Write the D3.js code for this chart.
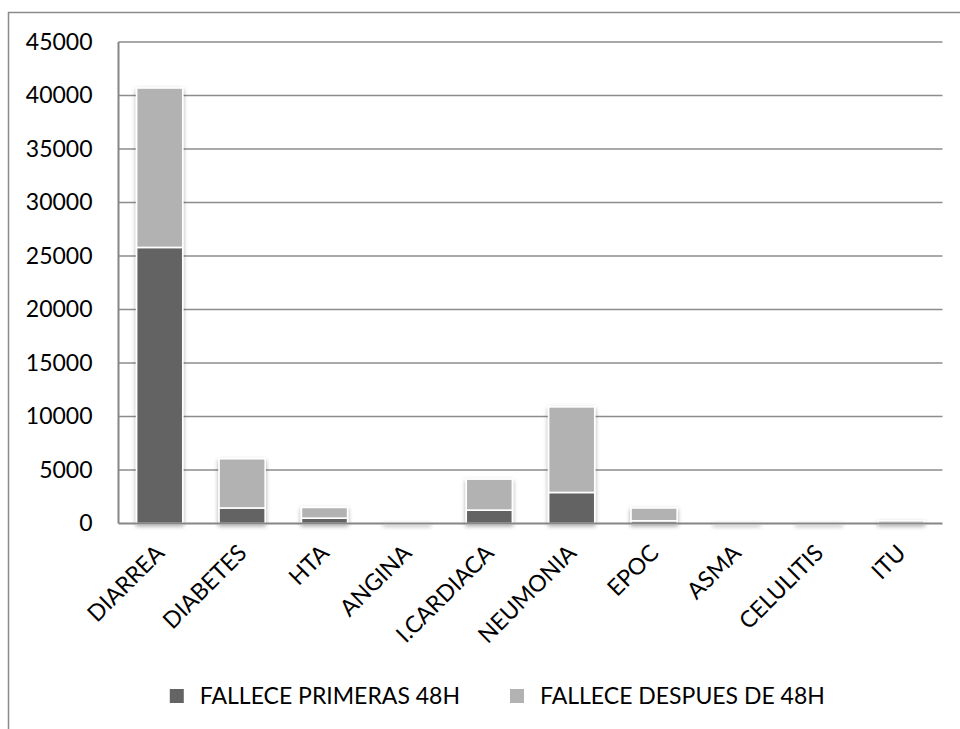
<!DOCTYPE html>
<html>
<head>
<meta charset="utf-8">
<script src="https://cdn.jsdelivr.net/npm/d3@7"></script>
<style>
  html, body { margin: 0; padding: 0; background: #fff; }
  svg { display: block; }
  text { font-family: Lato, "Open Sans", sans-serif; fill: #000; }
</style>
</head>
<body>
<svg id="chart" width="960" height="729"></svg>
<script>
const categories = ["DIARREA", "DIABETES", "HTA", "ANGINA", "I.CARDIACA", "NEUMONIA", "EPOC", "ASMA", "CELULITIS", "ITU"];
const seriesNames = ["FALLECE PRIMERAS 48H", "FALLECE DESPUES DE 48H"];
const primeras48h = [25800, 1450, 500, 20, 1250, 2900, 250, 10, 10, 20];
const despues48h  = [14900, 4600, 1000, 40, 2900, 8000, 1200, 20, 20, 230];
const yTicks = [0, 5000, 10000, 15000, 20000, 25000, 30000, 35000, 40000, 45000];
const colors = ["#646464", "#b2b2b2"];

const svg = d3.select("#chart");
const W = 960, H = 729;
const plot = { left: 118.5, right: 942.5, top: 42, bottom: 523.5 };
const FS = "23px";

// shadow filter
const defs = svg.append("defs");
const f = defs.append("filter").attr("id", "shadow").attr("x", "-30%").attr("y", "-30%").attr("width", "160%").attr("height", "160%");
f.append("feDropShadow").attr("dx", 0).attr("dy", 2).attr("stdDeviation", 2.2)
  .attr("flood-color", "#000").attr("flood-opacity", 0.35);

// outer frame
svg.append("path")
  .attr("d", `M8.5,${H} L8.5,12.5 L${W},12.5`)
  .attr("fill", "none").attr("stroke", "#8a8a8a").attr("stroke-width", 1.5);

const x = d3.scaleBand().domain(categories).range([plot.left, plot.right]).paddingInner(0.44).paddingOuter(0.22);
const y = d3.scaleLinear().domain([0, 45000]).range([plot.bottom, plot.top]);

// gridlines
svg.append("g").selectAll("line").data(yTicks.filter(t => t > 0)).join("line")
  .attr("x1", plot.left).attr("x2", plot.right)
  .attr("y1", d => y(d)).attr("y2", d => y(d))
  .attr("stroke", "#8c8c8c").attr("stroke-width", 1.6);

// stacked data
const table = categories.map((c, i) => ({ cat: c, s0: primeras48h[i], s1: despues48h[i] }));
const stack = d3.stack().keys(["s0", "s1"])(table);

const gBars = svg.append("g").attr("filter", "url(#shadow)");
stack.forEach((layer, li) => {
  gBars.append("g").selectAll("rect").data(layer).join("rect")
    .attr("x", d => x(d.data.cat))
    .attr("width", x.bandwidth())
    .attr("y", d => y(d[1]))
    .attr("height", d => Math.max(0, y(d[0]) - y(d[1])))
    .attr("fill", colors[li])
    .attr("stroke", "#fff").attr("stroke-width", 1.6);
});

// axes lines
svg.append("line").attr("x1", plot.left).attr("x2", plot.left).attr("y1", plot.top).attr("y2", plot.bottom)
  .attr("stroke", "#868686").attr("stroke-width", 2);
svg.append("line").attr("x1", plot.left).attr("x2", plot.right).attr("y1", plot.bottom).attr("y2", plot.bottom)
  .attr("stroke", "#868686").attr("stroke-width", 2);

// y axis labels
const yAxis = d3.axisLeft(y).tickValues(yTicks).tickSize(0).tickPadding(26).tickFormat(d3.format("d"));
const gy = svg.append("g").attr("transform", `translate(${plot.left},0)`).call(yAxis);
gy.select(".domain").remove();
gy.selectAll("text").style("font-size", FS).style("font-family", "Lato, sans-serif").attr("fill", "#000");

// x axis labels
const xAxis = d3.axisBottom(x).tickSize(0).tickPadding(0);
const gx = svg.append("g").attr("transform", `translate(0,${plot.bottom})`).call(xAxis);
gx.select(".domain").remove();
gx.selectAll("text")
  .style("font-size", FS).style("font-family", "Lato, sans-serif").attr("fill", "#000")
  .attr("text-anchor", "end")
  .attr("dy", null).attr("y", 0)
  .attr("transform", "translate(6,31) rotate(-45)");

// legend
const lg = svg.append("g");
const legendBaseline = 704;
const t1 = lg.append("text").attr("x", 0).attr("y", legendBaseline).style("font-size", FS).text(seriesNames[0]);
const w1 = t1.node().getComputedTextLength();
const t1x = 460 - w1;
t1.attr("x", t1x);
lg.append("rect").attr("x", t1x - 30).attr("y", 689).attr("width", 14).attr("height", 14).attr("fill", colors[0]);
lg.append("rect").attr("x", 510).attr("y", 689).attr("width", 14).attr("height", 14).attr("fill", colors[1]);
lg.append("text").attr("x", 540).attr("y", legendBaseline).style("font-size", FS).text(seriesNames[1]);
</script>
</body>
</html>
